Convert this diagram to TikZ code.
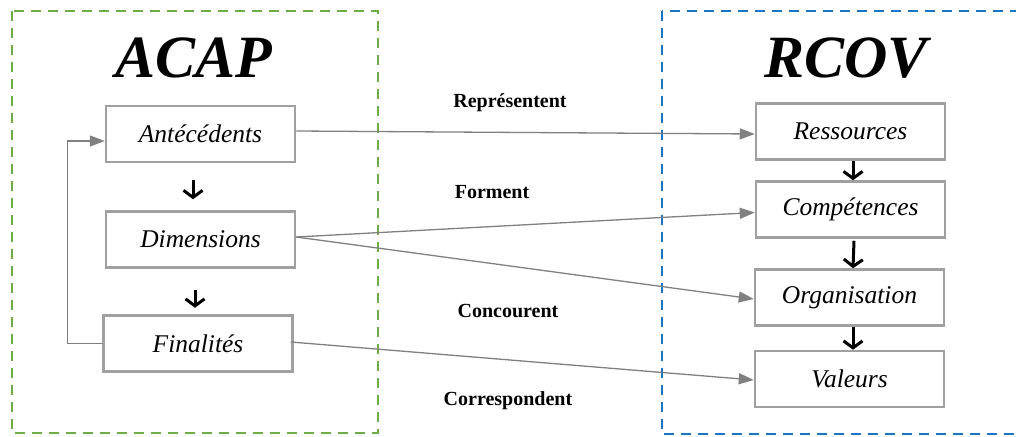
\documentclass[tikz,border=0pt]{standalone}
\usepackage{fontspec}
\setmainfont{Liberation Serif}
\usetikzlibrary{arrows.meta}
\definecolor{grn}{HTML}{70AD47}
\definecolor{blu}{HTML}{1A75C4}
\definecolor{boxgray}{HTML}{A0A0A0}
\definecolor{linegray}{HTML}{808080}
\tikzset{
  frame/.style={line width=2.2pt, dash pattern=on 10pt off 7pt},
  concept/.style={draw=boxgray, line width=2.5pt, fill=white, minimum width=189pt, minimum height=56pt,
    inner sep=0pt, font=\fontsize{25.5}{25.5}\selectfont\itshape},
  title/.style={font=\fontsize{60}{60}\selectfont\bfseries\itshape, inner sep=0pt},
  relabel/.style={font=\fontsize{20}{20}\selectfont\bfseries, inner sep=0pt},
  link/.style={draw=linegray, line width=1.3pt, -{Triangle[length=15pt,width=11pt]}},
  seq/.style={draw=black, line width=3pt, -{Straight Barb[length=7pt,width=19pt]}},
}
\begin{document}
\begin{tikzpicture}[x=1pt,y=-1pt]
\useasboundingbox (0,0) rectangle (1016,436);
\draw[frame, grn] (12,11) rectangle (378,433);
\draw[frame, blu] (662,11) rectangle (1030,434);

\node[title] (acap) at (194,58) {ACAP};
\node[title] (rcov) at (846,58) {RCOV};

\node[concept] (ant) at (200.5,134) {Antécédents};
\node[concept] (dim) at (200.5,239.5) {Dimensions};
\node[concept] (fin) at (198,343.5) {Finalités};

\node[concept] (res) at (850.5,131.5) {Ressources};
\node[concept] (comp) at (850.5,209.5) {Compétences};
\node[concept] (org) at (849.5,297.5) {Organisation};
\node[concept] (val) at (849.5,379) {Valeurs};

\node[relabel] (l1) at (510,103) {Représentent};
\node[relabel] (l2) at (492,192) {Forment};
\node[relabel] (l3) at (508,311) {Concourent};
\node[relabel] (l4) at (508,401) {Correspondent};

% sequence arrows
\draw[seq] ([xshift=-7.5pt,yshift=-17pt]ant.south) -- ++(0,19);
\draw[seq] ([xshift=-5.5pt,yshift=-21pt]dim.south) -- ++(0,18);
\draw[seq] ([xshift=2.5pt]res.south) -- ([xshift=2.5pt]comp.north);
\draw[seq] ([xshift=3.5pt,yshift=-2pt]comp.south) -- ([xshift=3.5pt]org.north);
\draw[seq] ([xshift=3.5pt]org.south) -- ([xshift=3.5pt]val.north);

% links
\draw[link] ([yshift=3pt]ant.east) -- ([yshift=-2.5pt]res.west);
\draw[link] ([yshift=2.5pt]dim.east) -- ([yshift=-3pt]comp.west);
\draw[link] ([yshift=2.5pt]dim.east) -- ([yshift=-1.5pt]org.west);
\draw[link] ([xshift=-3pt,yshift=1.5pt]fin.east) -- ([yshift=-1pt]val.west);

% feedback loop
\draw[link] (fin.west) -- ++(-35,0) |- ([yshift=-7pt]ant.west);
\end{tikzpicture}
\end{document}
